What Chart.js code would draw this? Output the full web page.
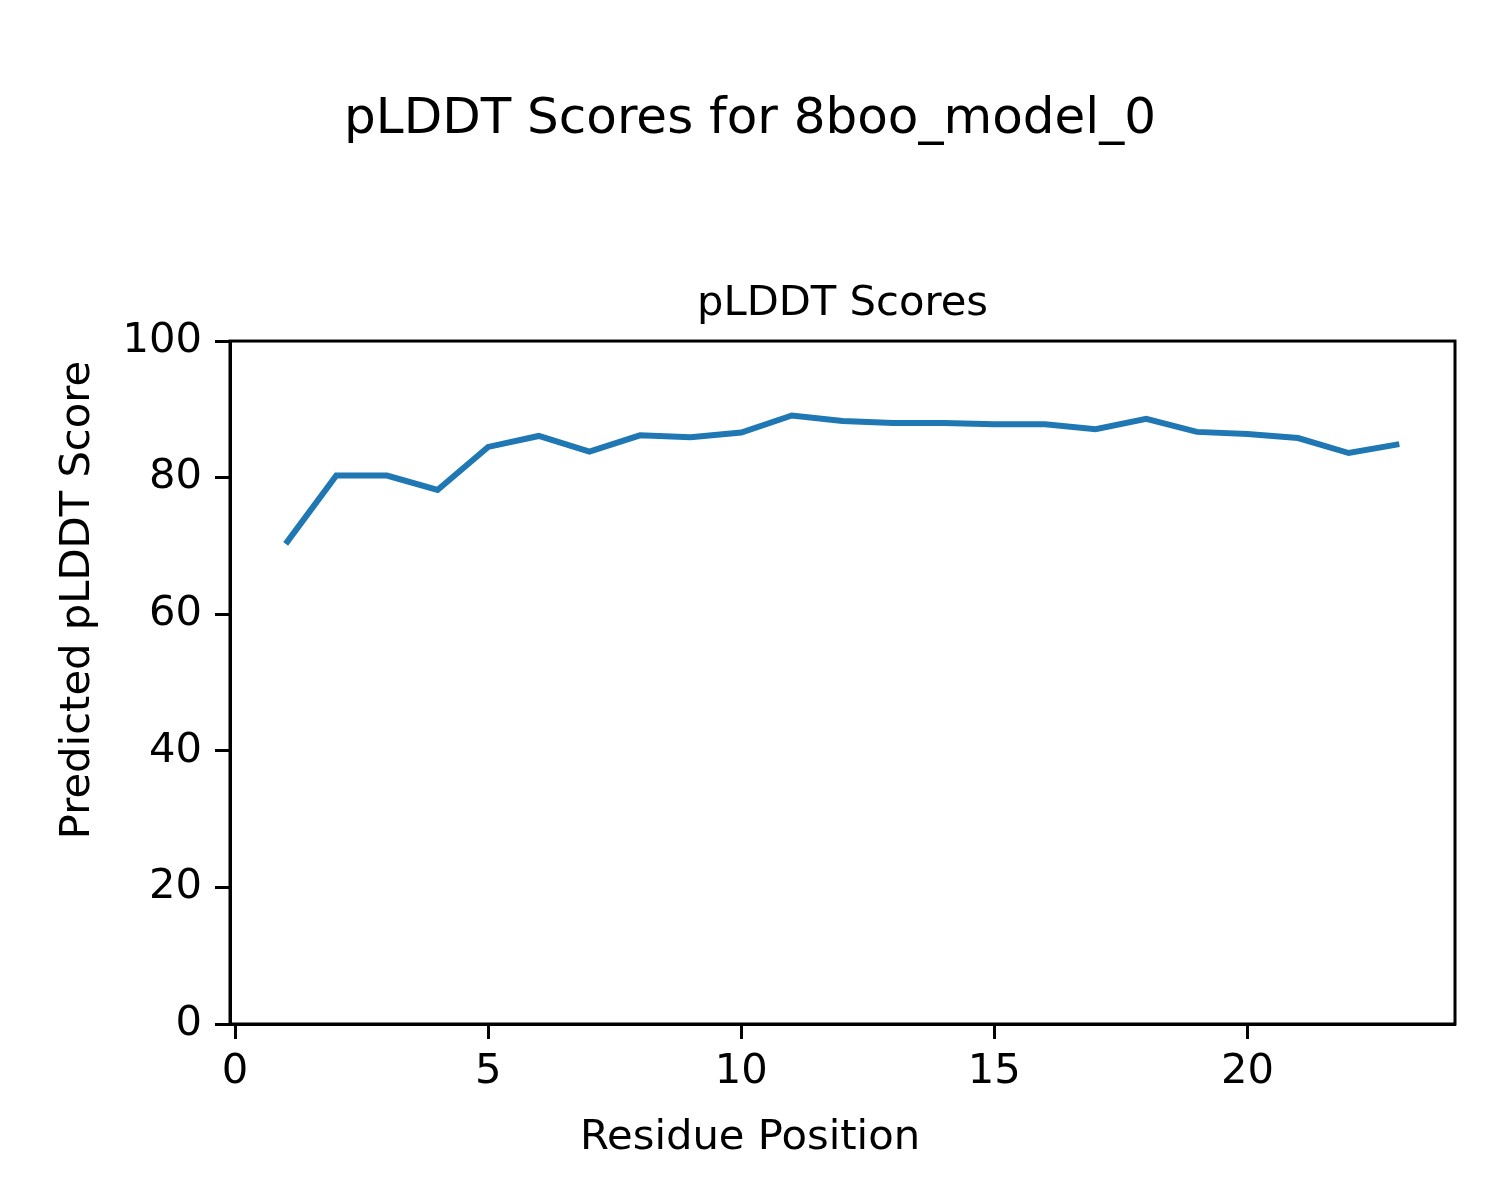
<!DOCTYPE html>
<html>
<head>
<meta charset="utf-8">
<script src="https://cdn.jsdelivr.net/npm/chart.js@4"></script>
<style>
  html, body { margin: 0; padding: 0; background: #fff; }
  canvas { display: block; }
</style>
</head>
<body>
<canvas id="chart" width="1500" height="1200"></canvas>
<script>
// residue positions and their pLDDT scores
const residues = [1, 2, 3, 4, 5, 6, 7, 8, 9, 10, 11, 12, 13, 14, 15, 16, 17, 18, 19, 20, 21, 22, 23]
const scores = [70.3, 80.3, 80.3, 78.2, 84.5, 86.1, 83.8, 86.2, 85.9, 86.6, 89.1, 88.3, 88.0, 88.0, 87.8, 87.8, 87.1, 88.6, 86.7, 86.4, 85.8, 83.6, 84.9]
const xTicks = [0, 5, 10, 15, 20]
const yTicks = [0, 20, 40, 60, 80, 100]
const xLabel = "Residue Position"
const yLabel = "Predicted pLDDT Score"

Chart.defaults.font.family = "'DejaVu Sans', sans-serif"
Chart.defaults.color = "#000"

// matplotlib-style frame round the axes, plus figure-level axis labels
const frame = {
	id: "frame",
	afterDraw(chart) {
		const { ctx, chartArea: a, width, height } = chart
		ctx.save()
		ctx.strokeStyle = "#000"
		ctx.lineWidth = 3
		ctx.strokeRect(a.left, a.top, a.right - a.left, a.bottom - a.top)

		ctx.fillStyle = "#000"
		ctx.font = "41.7px 'DejaVu Sans', sans-serif"
		ctx.textAlign = "center"
		ctx.textBaseline = "middle"
		ctx.fillText(xLabel, width / 2, 1138)
		ctx.translate(78, height / 2)
		ctx.rotate(-Math.PI / 2)
		ctx.fillText(yLabel, 0, 0)
		ctx.restore()
	}
}

const ctx = document.getElementById("chart").getContext("2d")

new Chart(ctx, {
	type: "line",
	data: {
		datasets: [{
			data: residues.map((r, i) => ({ x: r, y: scores[i] })),
			borderColor: "#1f77b4",
			borderWidth: 6,
			pointRadius: 0,
			tension: 0,
			fill: false,
		}],
	},
	options: {
		responsive: false,
		animation: false,
		devicePixelRatio: 1,
		layout: { padding: { left: 45, right: 45, top: 0, bottom: 0 } },
		plugins: {
			legend: { display: false },
			tooltip: { enabled: false },
			title: {
				display: true,
				text: "pLDDT Scores for 8boo_model_0",
				font: { size: 50, weight: "normal" },
				padding: { top: 90, bottom: 0 },
			},
			subtitle: {
				display: true,
				fullSize: false,
				text: "pLDDT Scores",
				font: { size: 41.7, weight: "normal" },
				padding: { top: 129, bottom: 12 },
			},
		},
		scales: {
			x: {
				type: "linear",
				min: -0.1,
				max: 24.1,
				afterFit(scale) { scale.height = 176 },
				afterBuildTicks(scale) { scale.ticks = xTicks.map(v => ({ value: v })) },
				grid: { drawOnChartArea: false, tickLength: 15, tickWidth: 3, tickColor: "#000" },
				border: { color: "#000", width: 3 },
				ticks: { font: { size: 41.7 }, padding: 8, maxRotation: 0 },
			},
			y: {
				min: 0,
				max: 100,
				afterFit(scale) { scale.width = 185 },
				afterBuildTicks(scale) { scale.ticks = yTicks.map(v => ({ value: v })) },
				grid: { drawOnChartArea: false, tickLength: 15, tickWidth: 3, tickColor: "#000" },
				border: { color: "#000", width: 3 },
				ticks: { font: { size: 41.7 }, padding: 13 },
			},
		},
	},
	plugins: [frame],
})
</script>
</body>
</html>
